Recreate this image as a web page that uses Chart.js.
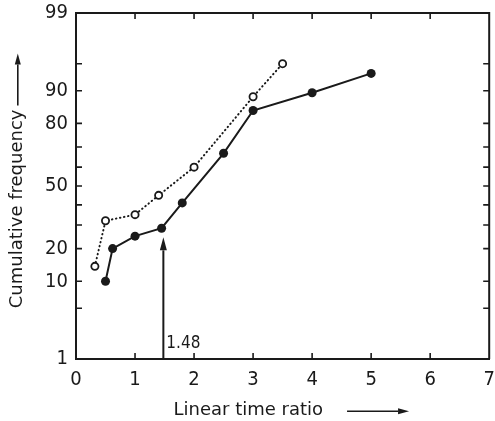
<!DOCTYPE html>
<html>
<head>
<meta charset="utf-8">
<script src="https://cdn.jsdelivr.net/npm/chart.js@4.4.1/dist/chart.umd.min.js"></script>
<style>
  html, body { margin: 0; padding: 0; background: #fff; }
  #wrap { width: 495px; height: 421px; position: relative; }
</style>
</head>
<body>
<div id="wrap"><canvas id="chart"></canvas></div>
<script>
// Filled points, solid line
let solidX = [0.5, 0.62, 1.0, 1.45, 1.8, 2.5, 3.0, 4.0, 5.0];
let solidY = [10, 20, 25, 28.5, 41, 67, 84.5, 89.5, 93.5];

// Open points, dotted line
let openX = [0.32, 0.5, 1.0, 1.4, 2.0, 3.0, 3.5];
let openY = [14, 32, 35, 45, 60, 88.5, 95];

// Probability axis ticks (percent) and the ones that get a label
let yTicks = [1, 5, 10, 20, 30, 40, 50, 60, 70, 80, 90, 95, 99];
let yLabels = [1, 10, 20, 50, 80, 90, 99];

// Marked value on the x axis
let markX = 1.48;
let markTop = 24.5;

const ink = '#1a1a1a';
const tickFont = "'DejaVu Sans Condensed', 'DejaVu Sans', sans-serif";
const titleFont = "'DejaVu Sans', sans-serif";
const xTitleWords = 'Linear time ratio';
const yTitleWords = 'Cumulative frequency';

// Inverse of the standard normal CDF (Acklam)
function probit(p) {
    const a = [-3.969683028665376e+01, 2.209460984245205e+02, -2.759285104469687e+02, 1.383577518672690e+02, -3.066479806614716e+01, 2.506628277459239e+00];
    const b = [-5.447609879822406e+01, 1.615858368580409e+02, -1.556989798598866e+02, 6.680131188771972e+01, -1.328068155288572e+01];
    const c = [-7.784894002430293e-03, -3.223964580411365e-01, -2.400758277161838e+00, -2.549732539343734e+00, 4.374664141464968e+00, 2.938163982698783e+00];
    const d = [7.784695709041462e-03, 3.224671290700398e-01, 2.445134137142996e+00, 3.754408661907416e+00];
    const pl = 0.02425;
    let q, r;
    if (p < pl) {
        q = Math.sqrt(-2 * Math.log(p));
        return (((((c[0] * q + c[1]) * q + c[2]) * q + c[3]) * q + c[4]) * q + c[5]) / ((((d[0] * q + d[1]) * q + d[2]) * q + d[3]) * q + 1);
    }
    if (p <= 1 - pl) {
        q = p - 0.5; r = q * q;
        return (((((a[0] * r + a[1]) * r + a[2]) * r + a[3]) * r + a[4]) * r + a[5]) * q / (((((b[0] * r + b[1]) * r + b[2]) * r + b[3]) * r + b[4]) * r + 1);
    }
    q = Math.sqrt(-2 * Math.log(1 - p));
    return -(((((c[0] * q + c[1]) * q + c[2]) * q + c[3]) * q + c[4]) * q + c[5]) / ((((d[0] * q + d[1]) * q + d[2]) * q + d[3]) * q + 1);
}

// Standard normal CDF, for pixel -> value
function normCdf(z) {
    const t = 1 / (1 + 0.2316419 * Math.abs(z));
    const poly = t * (0.319381530 + t * (-0.356563782 + t * (1.781477937 + t * (-1.821255978 + t * 1.330274429))));
    const tail = Math.exp(-z * z / 2) / Math.sqrt(2 * Math.PI) * poly;
    return z >= 0 ? 1 - tail : tail;
}

// Normal probability scale (values in percent)
class ProbabilityScale extends Chart.LinearScale {
    buildTicks() {
        return yTicks.map(v => ({ value: v }));
    }
    configure() {
        super.configure();
        this._zMin = probit(this.min / 100);
        this._zMax = probit(this.max / 100);
    }
    getPixelForValue(value) {
        const z = probit(value / 100);
        return this.getPixelForDecimal((z - this._zMin) / (this._zMax - this._zMin));
    }
    getValueForPixel(pixel) {
        const z = this._zMin + this.getDecimalForPixel(pixel) * (this._zMax - this._zMin);
        return normCdf(z) * 100;
    }
}
ProbabilityScale.id = 'probability';
ProbabilityScale.defaults = {};
Chart.register(ProbabilityScale);

function drawArrow(ctx, x1, y1, x2, y2, head, half) {
    const ang = Math.atan2(y2 - y1, x2 - x1);
    const bx = x2 - head * Math.cos(ang), by = y2 - head * Math.sin(ang);
    ctx.beginPath();
    ctx.moveTo(x1, y1);
    ctx.lineTo(bx, by);
    ctx.stroke();
    ctx.beginPath();
    ctx.moveTo(x2, y2);
    ctx.lineTo(bx + half * Math.sin(ang), by - half * Math.cos(ang));
    ctx.lineTo(bx - half * Math.sin(ang), by + half * Math.cos(ang));
    ctx.closePath();
    ctx.fill();
}

// Frame, inward ticks, title arrows and the 1.48 marker
const framePlugin = {
    id: 'frame',
    afterDraw(chart) {
        const { ctx, chartArea: a, scales: { x, y } } = chart;
        ctx.save();
        ctx.strokeStyle = ink;
        ctx.fillStyle = ink;
        ctx.lineWidth = 2;
        ctx.beginPath();
        ctx.moveTo(a.left, a.top);
        ctx.lineTo(a.right, a.top);
        ctx.lineTo(a.right, a.bottom);
        ctx.stroke();

        ctx.lineWidth = 1.6;
        ctx.beginPath();
        y.ticks.forEach(t => {
            if (t.value === y.min || t.value === y.max) return;
            const py = y.getPixelForValue(t.value);
            ctx.moveTo(a.left, py); ctx.lineTo(a.left + 6, py);
            ctx.moveTo(a.right, py); ctx.lineTo(a.right - 6, py);
        });
        x.ticks.forEach(t => {
            if (t.value === x.min || t.value === x.max) return;
            const px = x.getPixelForValue(t.value);
            ctx.moveTo(px, a.bottom); ctx.lineTo(px, a.bottom - 6);
            ctx.moveTo(px, a.top); ctx.lineTo(px, a.top + 6);
        });
        ctx.stroke();

        // marker at 1.48
        const mx = x.getPixelForValue(markX);
        const my0 = y.getPixelForValue(y.min);
        const my1 = y.getPixelForValue(markTop);
        ctx.lineWidth = 2;
        drawArrow(ctx, mx, my0, mx, my1, 13, 3.5);
        ctx.font = "17px " + tickFont;
        ctx.textAlign = 'left';
        ctx.textBaseline = 'alphabetic';
        ctx.fillText(String(markX), mx + 3, my0 - 11);

        // title arrows
        ctx.font = "18px " + titleFont;
        ctx.lineWidth = 1.6;
        const xFull = ctx.measureText(chart.options.scales.x.title.text).width;
        const xText = ctx.measureText(xTitleWords).width;
        const xStart = (x.left + x.right) / 2 - xFull / 2;
        const xay = x.bottom - 10.8 + 1;
        drawArrow(ctx, xStart + xText + 24, xay, xStart + xText + 86, xay, 11, 3);

        const yFull = ctx.measureText(chart.options.scales.y.title.text).width;
        const yText = ctx.measureText(yTitleWords).width;
        const yStart = (y.top + y.bottom) / 2 + yFull / 2;
        const yax = y.left + 7 + 10.8;
        drawArrow(ctx, yax, yStart - yText - 4, yax, yStart - yText - 56, 11, 3);
        ctx.restore();
    }
};

new Chart(document.getElementById('chart'), {
    type: 'line',
    data: {
        datasets: [
            {
                data: openX.map((v, i) => ({ x: v, y: openY[i] })),
                borderColor: ink,
                borderWidth: 2,
                borderDash: [0.5, 3.6],
                borderCapStyle: 'round',
                pointRadius: 3.6,
                pointBorderWidth: 1.8,
                pointBackgroundColor: '#fff',
                pointBorderColor: ink,
                tension: 0
            },
            {
                data: solidX.map((v, i) => ({ x: v, y: solidY[i] })),
                borderColor: ink,
                borderWidth: 2,
                pointRadius: 4.5,
                pointBorderWidth: 0,
                pointBackgroundColor: ink,
                tension: 0
            }
        ]
    },
    options: {
        responsive: true,
        maintainAspectRatio: false,
        animation: false,
        layout: { padding: { top: 13, right: 3, bottom: 0, left: 0 } },
        plugins: { legend: { display: false }, tooltip: { enabled: false } },
        scales: {
            x: {
                type: 'linear',
                min: 0,
                max: 7,
                grid: { display: false, drawTicks: false },
                border: { display: true, color: ink, width: 2 },
                ticks: {
                    stepSize: 1,
                    padding: 9,
                    color: ink,
                    font: { family: tickFont, size: 20 },
                    maxRotation: 0
                },
                title: {
                    display: true,
                    text: xTitleWords + '            ',
                    color: ink,
                    font: { family: titleFont, size: 18 },
                    padding: { top: 0, bottom: 0 }
                },
                afterFit: s => { s.height = 62; s.paddingLeft = 0; s.paddingRight = 0; }
            },
            y: {
                type: 'probability',
                min: 1,
                max: 99,
                grid: { display: false, drawTicks: false },
                border: { display: true, color: ink, width: 2 },
                ticks: {
                    autoSkip: false,
                    padding: 8,
                    color: ink,
                    font: { family: tickFont, size: 20 },
                    callback: v => yLabels.includes(v) ? String(v) : ''
                },
                title: {
                    display: true,
                    text: yTitleWords + '        ',
                    color: ink,
                    font: { family: titleFont, size: 18 },
                    padding: { top: 7, bottom: 0 }
                },
                afterFit: s => { s.width = 76; s.paddingTop = 0; s.paddingBottom = 0; }
            }
        }
    },
    plugins: [framePlugin]
});
</script>
</body>
</html>
